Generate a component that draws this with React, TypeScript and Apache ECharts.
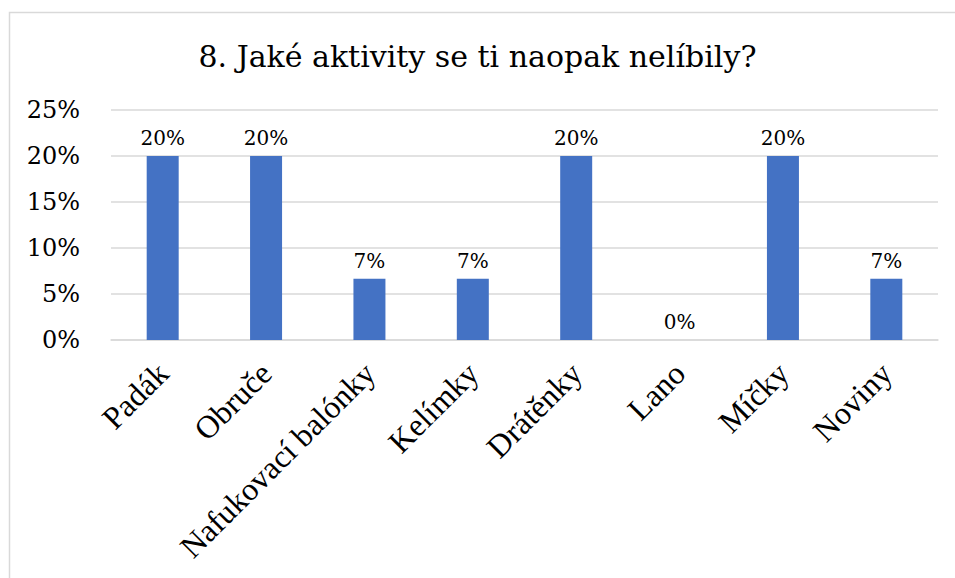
import React, { useEffect, useRef } from "react";
import * as echarts from "echarts";

const TITLE = "8. Jaké aktivity se ti naopak nelíbily?";
const categories = [
  "Padák",
  "Obruče",
  "Nafukovací balónky",
  "Kelímky",
  "Drátěnky",
  "Lano",
  "Míčky",
  "Noviny",
];
// share of answers, in percent (3/15 and 1/15 of respondents)
const shares = [20, 20, 6.67, 6.67, 20, 0, 20, 6.67];
const yTicks = { min: 0, max: 25, step: 5 };

// rotated category names keep Times; upright texts use DejaVu Serif
const ROTATED_SERIF = "Times New Roman";
const UPRIGHT_SERIF = "DejaVu Serif";
const GRID_GRAY = "#d9d9d9";
const BAR_BLUE = "#4472C4";

export default function App() {
  const ref = useRef<HTMLDivElement>(null);

  useEffect(() => {
    document.body.style.margin = "0";
    if (!ref.current) return;
    const chart = echarts.init(ref.current, null, { renderer: "svg" });
    chart.setOption({
      animation: false,
      backgroundColor: "#ffffff",
      title: {
        text: TITLE,
        left: "center",
        top: 36,
        textStyle: {
          fontFamily: UPRIGHT_SERIF,
          fontSize: 30,
          fontWeight: "normal",
          color: "#000",
        },
      },
      graphic: [
        {
          type: "rect",
          left: 7,
          top: 10,
          shape: { width: 1000, height: 620 },
          style: { fill: "none", stroke: GRID_GRAY, lineWidth: 1.5 },
          silent: true,
        },
      ],
      grid: {
        left: 111,
        right: 17,
        top: 110,
        bottom: 238,
        containLabel: false,
        outerBoundsMode: "none",
      },
      xAxis: {
        type: "category",
        data: categories,
        axisLine: { show: true, lineStyle: { color: GRID_GRAY, width: 1.5 } },
        axisTick: { show: false },
        axisLabel: {
          interval: 0,
          rotate: 45,
          margin: 28,
          fontFamily: ROTATED_SERIF,
          fontSize: 32,
          color: "#000",
        },
      },
      yAxis: {
        type: "value",
        min: yTicks.min,
        max: yTicks.max,
        interval: yTicks.step,
        axisLine: { show: false },
        axisTick: { show: false },
        splitLine: { lineStyle: { color: GRID_GRAY, width: 1.5 } },
        axisLabel: {
          margin: 31,
          fontFamily: UPRIGHT_SERIF,
          fontSize: 24,
          color: "#000",
          formatter: (v: number) => `${v}%`,
        },
      },
      series: [
        {
          type: "bar",
          data: shares,
          barWidth: 32,
          itemStyle: { color: BAR_BLUE },
          label: {
            show: true,
            position: "top",
            distance: 8,
            fontFamily: UPRIGHT_SERIF,
            fontSize: 20,
            color: "#000",
            formatter: (p: { value: number }) => `${Math.round(p.value)}%`,
          },
        },
      ],
    });
    return () => chart.dispose();
  }, []);

  return <div ref={ref} style={{ width: 955, height: 578 }} />;
}
